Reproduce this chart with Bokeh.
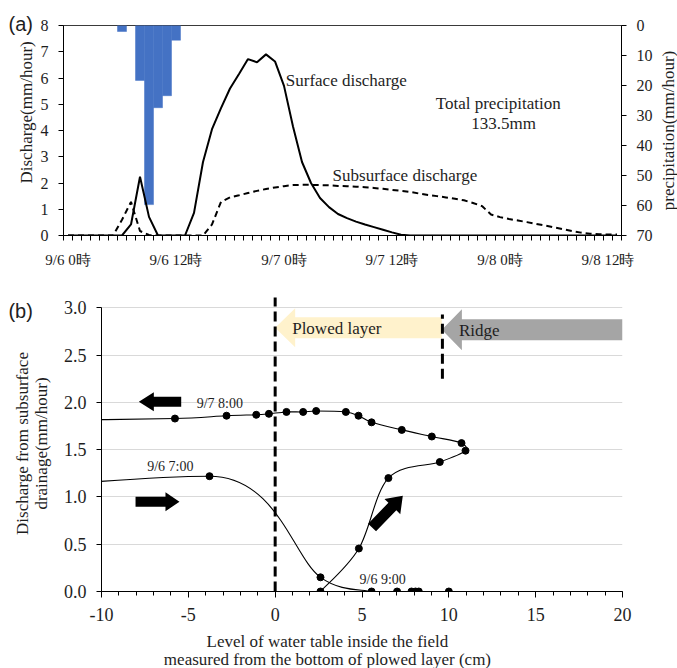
import numpy as np
from bokeh.plotting import figure
from bokeh.models import Range1d, LinearAxis, FixedTicker, Label, PrintfTickFormatter
from bokeh.layouts import column
from bokeh.embed import file_html
from bokeh.resources import INLINE
from bokeh.core.properties import value

SERIF = "Liberation Serif"
SANS = "Liberation Sans"
TXT = "#1e1e1e"

# ---------------- (a) data ----------------
hours = list(range(62))
tick_hours = [0, 12, 24, 36, 48, 60]
tick_labels = ["9/6 0時", "9/6 12時", "9/7 0時", "9/7 12時", "9/8 0時", "9/8 12時"]

precip_hours = [6, 8, 9, 10, 11, 12]
precip = [2.0, 18.3, 59.7, 27.4, 23.4, 4.9]

surface = ([0, 0, 0, 0, 0, 0, 0,
            0.42, 2.24, 0.71, 0, 0, 0, 0, 0.86, 2.8, 4.05, 4.85, 5.6, 6.15,
            6.72, 6.6, 6.9, 6.63, 5.7, 4.15, 2.8, 2.0, 1.43, 1.08, 0.82, 0.66,
            0.53, 0.42, 0.32, 0.22, 0.12, 0.03]
           + [0] * 24)

subsurface = [0, 0, 0, 0, 0, 0, 0.6, 1.28, 0.17, 0.02,
              0, 0, 0, 0, 0, 0,
              0.42, 1.28, 1.45, 1.53, 1.62, 1.7, 1.77, 1.83, 1.88, 1.92,
              1.93, 1.93, 1.92, 1.91, 1.89, 1.88, 1.86, 1.84, 1.81, 1.78,
              1.74, 1.7, 1.66, 1.6, 1.54, 1.5, 1.45, 1.4, 1.34, 1.24,
              1.12, 0.8, 0.7, 0.63, 0.57, 0.51, 0.44, 0.38, 0.31, 0.24,
              0.17, 0.11, 0.07, 0.05, 0.04, 0.04]

precip_ticks = [0, 10, 20, 30, 40, 50, 60, 70]
discharge_ticks = [0, 1, 2, 3, 4, 5, 6, 7, 8]

# annotation positions (a), data units
a_text = ["Surface discharge", "Subsurface discharge"]
a_text_x = [24.2, 29.4]
a_text_y = [5.9, 2.29]
total_text = ["Total precipitation", "133.5mm"]
total_x = [47.8, 48.4]
total_y = [5.04, 4.25]

# ---------------- (b) data ----------------
# series starting 9/6 7:00 (first point lies far off the plotted range)
s1_x = [-60.0, -3.78, 2.61, 5.55, 7.02, 7.85, 8.08, 8.27, 10.0]
s1_y = [0.15, 1.22, 0.15, 0.0, 0.0, 0.0, 0.0, 0.0, 0.0]
# loop series ending 9/7 8:00
s2_x = [2.61, 4.82, 6.52, 9.48, 10.96, 10.73, 9.02, 7.29, 5.55, 4.80, 4.07,
        2.36, 1.61, 0.65, -0.36, -1.09, -2.80, -5.77, -14.0]
s2_y = [0.0, 0.455, 1.20, 1.37, 1.49, 1.57, 1.64, 1.71, 1.79, 1.86, 1.90,
        1.91, 1.90, 1.90, 1.88, 1.87, 1.86, 1.83, 1.81]

b_xticks = [-10, -5, 0, 5, 10, 15, 20]
b_yticks = [0.0, 0.5, 1.0, 1.5, 2.0, 2.5, 3.0]

time_labels = ["9/7 8:00", "9/6 7:00", "9/6 9:00"]
time_x = [-3.19, -6.04, 6.19]
time_y = [1.99, 1.32, 0.13]

# ---------------- helpers ----------------
def bezier_segments(xs, ys, sx, sy, k=1 / 6, clamp=0.45):
    """Smoothed (Catmull-Rom style) curve through the points, as cubic Bezier segments."""
    X = [x * sx for x in xs]
    Y = [y * sy for y in ys]
    out = {key: [] for key in ("x0", "y0", "x1", "y1", "cx0", "cy0", "cx1", "cy1")}
    n = len(xs)

    def limit(vx, vy, m):
        L = (vx * vx + vy * vy) ** 0.5
        if L > m and L > 0:
            return vx * m / L, vy * m / L
        return vx, vy

    for i in range(n - 1):
        a = max(i - 1, 0)
        d = min(i + 2, n - 1)
        seg = ((X[i + 1] - X[i]) ** 2 + (Y[i + 1] - Y[i]) ** 2) ** 0.5
        t1 = limit((X[i + 1] - X[a]) * k, (Y[i + 1] - Y[a]) * k, clamp * seg)
        t2 = limit((X[d] - X[i]) * k, (Y[d] - Y[i]) * k, clamp * seg)
        out["x0"].append(xs[i]); out["y0"].append(ys[i])
        out["x1"].append(xs[i + 1]); out["y1"].append(ys[i + 1])
        out["cx0"].append((X[i] + t1[0]) / sx)
        out["cy0"].append((Y[i] + t1[1]) / sy)
        out["cx1"].append((X[i + 1] - t2[0]) / sx)
        out["cy1"].append((Y[i + 1] - t2[1]) / sy)
    return out


def arrow_polygon(x0, y0, x1, y1, shaft, head_w, head_len, sx, sy):
    X0, Y0, X1, Y1 = x0 * sx, y0 * sy, x1 * sx, y1 * sy
    dx, dy = X1 - X0, Y1 - Y0
    L = (dx * dx + dy * dy) ** 0.5
    ux, uy = dx / L, dy / L
    nx, ny = -uy, ux
    hx, hy = X1 - ux * head_len, Y1 - uy * head_len
    pts = [(X1, Y1),
           (hx + nx * head_w / 2, hy + ny * head_w / 2),
           (hx + nx * shaft / 2, hy + ny * shaft / 2),
           (X0 + nx * shaft / 2, Y0 + ny * shaft / 2),
           (X0 - nx * shaft / 2, Y0 - ny * shaft / 2),
           (hx - nx * shaft / 2, hy - ny * shaft / 2),
           (hx - nx * head_w / 2, hy - ny * head_w / 2)]
    return [p[0] / sx for p in pts], [p[1] / sy for p in pts]


def side_label(p, place, x, y, text, size="17px", font=SERIF, angle=0.0, align="center"):
    p.add_layout(Label(x=x, y=y, text=text, angle=angle, text_font=font,
                       text_font_size=size, text_color=TXT, text_align=align,
                       text_baseline="middle"), place)


# ---------------- figure (a) ----------------
W = 677
HA = 270
pa = figure(width=W, height=HA, x_range=Range1d(-0.5, 61.5), y_range=Range1d(0, 8),
            output_backend="svg", toolbar_location=None,
            min_border_left=63, min_border_right=56, min_border_top=25, min_border_bottom=32)
try:
    pa.frame_align = False
except Exception:
    pass
pa.extra_y_ranges = {"p": Range1d(70, 0)}
pa.xgrid.visible = False
pa.ygrid.visible = False
pa.outline_line_color = "#3a3a3a"

pa.vbar(x=precip_hours, top=precip, bottom=0, width=1.0, y_range_name="p",
        fill_color="#4472C4", line_color="#4472C4", line_width=0.5)
pa.line(hours, surface, line_color="black", line_width=2)
pa.line(hours, subsurface, line_color="black", line_width=2, line_dash="6 4")

pa.text(x=a_text_x, y=a_text_y, text=a_text, text_font=value(SERIF), text_font_size="17px",
        text_color=TXT, text_align="left", text_baseline="middle")
pa.text(x=total_x, y=total_y, text=total_text, text_font=value(SERIF), text_font_size="17px",
        text_color=TXT, text_align="center", text_baseline="middle")

xa = pa.xaxis[0]
xa.ticker = FixedTicker(ticks=tick_hours, minor_ticks=[h - 0.5 for h in range(63)])
xa.major_label_overrides = {h: t for h, t in zip(tick_hours, tick_labels)}
xa.major_tick_out = 0
xa.major_tick_in = 0
xa.minor_tick_out = 5
xa.minor_tick_in = 0
xa.major_label_standoff = 11
xa.major_label_text_font = SERIF
xa.major_label_text_font_size = "15px"
xa.major_label_text_color = TXT
xa.axis_line_color = "black"

ya = pa.yaxis[0]
ya.ticker = FixedTicker(ticks=discharge_ticks)
ya.major_tick_out = 5
ya.major_tick_in = 0
ya.minor_tick_line_color = None
ya.major_label_standoff = 10
ya.major_label_text_font = SERIF
ya.major_label_text_font_size = "16px"
ya.major_label_text_color = TXT
ya.axis_line_color = "black"

ra = LinearAxis(y_range_name="p", ticker=FixedTicker(ticks=precip_ticks))
ra.major_tick_out = 5
ra.major_tick_in = 0
ra.minor_tick_line_color = None
ra.major_label_standoff = 10
ra.major_label_text_font = SERIF
ra.major_label_text_font_size = "16px"
ra.major_label_text_color = TXT
ra.axis_line_color = "black"
pa.add_layout(ra, "right")

side_label(pa, "above", -6.61, 8.04, "(a)", size="20px", font=SANS, align="left")
side_label(pa, "left", -4.61, 4.69, "Discharge(mm/hour)", angle=np.pi / 2)
side_label(pa, "right", 66.72, 4.0, "precipitation(mm/hour)", angle=np.pi / 2)

# ---------------- figure (b) ----------------
HB = 398
B_LEFT, B_RIGHT, B_TOP, B_BOTTOM = 101, 55, 25, 77
XMIN, XMAX, YMIN, YMAX = -10, 20, 0, 3.132
pb = figure(width=W, height=HB, x_range=Range1d(XMIN, XMAX), y_range=Range1d(YMIN, YMAX),
            output_backend="svg", toolbar_location=None,
            min_border_left=B_LEFT, min_border_right=B_RIGHT,
            min_border_top=B_TOP, min_border_bottom=B_BOTTOM)
try:
    pb.frame_align = False
except Exception:
    pass
pb.outline_line_color = None
pb.xgrid.visible = False
pb.ygrid.ticker = FixedTicker(ticks=b_yticks[1:])
pb.ygrid.grid_line_color = "#D9D9D9"
pb.ygrid.grid_line_width = 1

sx = (W - B_LEFT - B_RIGHT) / (XMAX - XMIN)
sy = (HB - B_TOP - B_BOTTOM) / (YMAX - YMIN)

arrows_big = [
    # (x_tail, y_tail, x_tip, y_tip, shaft_px, head_w_px, head_len_px, color)
    (9.6, 2.79, 0.0, 2.79, 21, 39, 20, "#FFF2CC"),
    (20.0, 2.77, 9.6, 2.77, 21, 41, 20, "#A5A5A5"),
]
arrows_black = [
    (-5.41, 2.008, -7.85, 2.008, 10, 19, 15),
    (-8.04, 0.95, -5.51, 0.95, 10, 19, 14),
    (5.58, 0.677, 7.35, 1.013, 11, 22, 15),
]
bx, by, bc = [], [], []
for (x0, y0, x1, y1, s, hw, hl, c) in arrows_big:
    px, py = arrow_polygon(x0, y0, x1, y1, s, hw, hl, sx, sy)
    bx.append(px); by.append(py); bc.append(c)
pb.patches(xs=bx, ys=by, fill_color=bc, line_color=None)

pb.text(x=[0.98], y=[2.78], text=["Plowed layer"], text_font=value(SERIF), text_font_size="17px",
        text_color=TXT, text_align="left", text_baseline="middle")
pb.text(x=[10.58], y=[2.76], text=["Ridge"], text_font=value(SERIF), text_font_size="17px",
        text_color=TXT, text_align="left", text_baseline="middle")

pb.segment(x0=[0.0], y0=[0.0], x1=[0.0], y1=[3.11], line_color="black", line_width=3, line_dash="10 5")
pb.segment(x0=[9.63], y0=[2.25], x1=[9.63], y1=[2.93], line_color="black", line_width=3, line_dash="10 5")

kx, ky = [], []
for (x0, y0, x1, y1, s, hw, hl) in arrows_black:
    px, py = arrow_polygon(x0, y0, x1, y1, s, hw, hl, sx, sy)
    kx.append(px); ky.append(py)
pb.patches(xs=kx, ys=ky, fill_color="black", line_color=None)

for xs, ys in ((s1_x, s1_y), (s2_x, s2_y)):
    seg = bezier_segments(xs, ys, sx, sy)
    pb.bezier(line_color="black", line_width=1.1, **seg)
    pb.scatter(xs, ys, size=7, fill_color="black", line_color="black")

pb.text(x=time_x, y=time_y, text=time_labels, text_font=value(SERIF), text_font_size="14px",
        text_color=TXT, text_align="center", text_baseline="middle")

xb = pb.xaxis[0]
xb.ticker = FixedTicker(ticks=b_xticks, minor_ticks=list(range(-10, 21)))
xb.formatter = PrintfTickFormatter(format="%d")
xb.major_tick_out = 6
xb.major_tick_in = 0
xb.minor_tick_out = 4
xb.minor_tick_in = 0
xb.major_label_standoff = 10
xb.major_label_text_font = SERIF
xb.major_label_text_font_size = "18px"
xb.major_label_text_color = TXT
xb.axis_line_color = "black"

yb = pb.yaxis[0]
yb.ticker = FixedTicker(ticks=b_yticks)
yb.formatter = PrintfTickFormatter(format="%.1f")
yb.bounds = (0, 3.0)
yb.major_tick_out = 5
yb.major_tick_in = 0
yb.minor_tick_line_color = None
yb.major_label_standoff = 10
yb.major_label_text_font = SERIF
yb.major_label_text_font_size = "18px"
yb.major_label_text_color = TXT
yb.axis_line_color = "black"

side_label(pb, "above", -15.36, 2.97, "(b)", size="20px", font=SANS, align="left")
side_label(pb, "left", -14.55, 1.566, "Discharge from subsurface", angle=np.pi / 2)
side_label(pb, "left", -13.46, 1.566, "drainage(mm/hour)", angle=np.pi / 2)
side_label(pb, "below", 3.01, -0.529, "Level of water table inside the field")
side_label(pb, "below", 3.01, -0.72, "measured from the bottom of plowed layer (cm)")

layout = column(pa, pb, spacing=0)
open("out.html", "w").write(file_html(layout, INLINE))
